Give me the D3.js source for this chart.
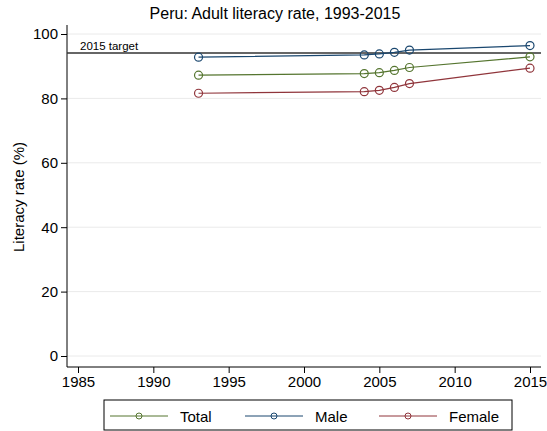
<!DOCTYPE html>
<html><head><meta charset="utf-8">
<script src="https://cdn.jsdelivr.net/npm/d3@7"></script>
<style>body{margin:0;background:#fff}svg{font-family:"Liberation Sans",Arial,sans-serif}</style>
</head><body><svg id="c" width="547" height="431"></svg>
<script>
const years = [1993, 2004, 2005, 2006, 2007, 2015];
const total = [87.2, 87.7, 88.0, 88.7, 89.6, 92.9];
const male = [92.8, 93.5, 93.8, 94.3, 95.0, 96.4];
const female = [81.6, 82.1, 82.5, 83.4, 84.6, 89.4];
const target = 94.1;
const xTicks = [1985, 1990, 1995, 2000, 2005, 2010, 2015];
const yTicks = [0, 20, 40, 60, 80, 100];
const seriesNames = ["Total", "Male", "Female"];
const seriesColors = ["#55752f", "#1a476f", "#90353b"];

const svg = d3.select("#c");
const x = d3.scaleLinear().domain([1985, 2015]).range([78, 530]);
const y = d3.scaleLinear().domain([0, 100]).range([356, 34]);
const L = 67, R = 541, T = 25, B = 367;

svg.append("rect").attr("width",547).attr("height",431).attr("fill","#fff");
svg.append("g").selectAll("line").data(yTicks).join("line")
  .attr("x1", L).attr("x2", R).attr("y1", d=>y(d)).attr("y2", d=>y(d))
  .attr("stroke","#eaeaea").attr("stroke-width",1);

const ya = svg.append("g").attr("transform",`translate(${L},0)`)
  .call(d3.axisLeft(y).tickValues(yTicks).tickSize(6).tickPadding(3));
ya.select(".domain").attr("d",`M0,${T}V${B}`);
const xa = svg.append("g").attr("transform",`translate(0,${B})`)
  .call(d3.axisBottom(x).tickValues(xTicks).tickFormat(d3.format("d")).tickSize(6).tickPadding(3));
xa.select(".domain").attr("d",`M${L},0H${R}`);
[ya, xa].forEach(a=>{a.selectAll("text").attr("font-size",15).attr("fill","#000").attr("font-family","Liberation Sans, Arial, sans-serif");
  a.selectAll("line,path").attr("stroke","#000");});

svg.append("line").attr("x1",L).attr("x2",R).attr("y1",y(target)).attr("y2",y(target))
  .attr("stroke","#333").attr("stroke-width",1.6);
svg.append("text").attr("x",80).attr("y",y(target)-3).attr("font-size",11.5).text("2015 target");

const data = [total, male, female];
const line = d3.line().x((d,i)=>x(years[i])).y(d=>y(d));
data.forEach((s,k)=>{
  const g = svg.append("g");
  g.append("path").attr("d", line(s)).attr("fill","none").attr("stroke",seriesColors[k]).attr("stroke-width",1.2);
  g.selectAll("circle").data(s).join("circle").attr("cx",(d,i)=>x(years[i])).attr("cy",d=>y(d))
    .attr("r",4).attr("fill","none").attr("stroke",seriesColors[k]).attr("stroke-width",1.2);
});

svg.append("text").attr("x",275).attr("y",19).attr("text-anchor","middle").attr("font-size",16).text("Peru: Adult literacy rate, 1993-2015");
svg.append("text").attr("transform",`translate(24,197) rotate(-90)`).attr("text-anchor","middle").attr("font-size",15).text("Literacy rate (%)");

svg.append("rect").attr("x",104).attr("y",400).attr("width",408).attr("height",30).attr("fill","#fff").attr("stroke","#000");
const lx = [110, 245, 379];
seriesNames.forEach((n,k)=>{
  const g = svg.append("g").attr("transform",`translate(${lx[k]},416)`);
  g.append("line").attr("x1",0).attr("x2",58).attr("stroke",seriesColors[k]);
  g.append("circle").attr("cx",29).attr("r",3).attr("fill","none").attr("stroke",seriesColors[k]);
  g.append("text").attr("x",70).attr("y",5.5).attr("font-size",15).text(n);
});
</script></body></html>
